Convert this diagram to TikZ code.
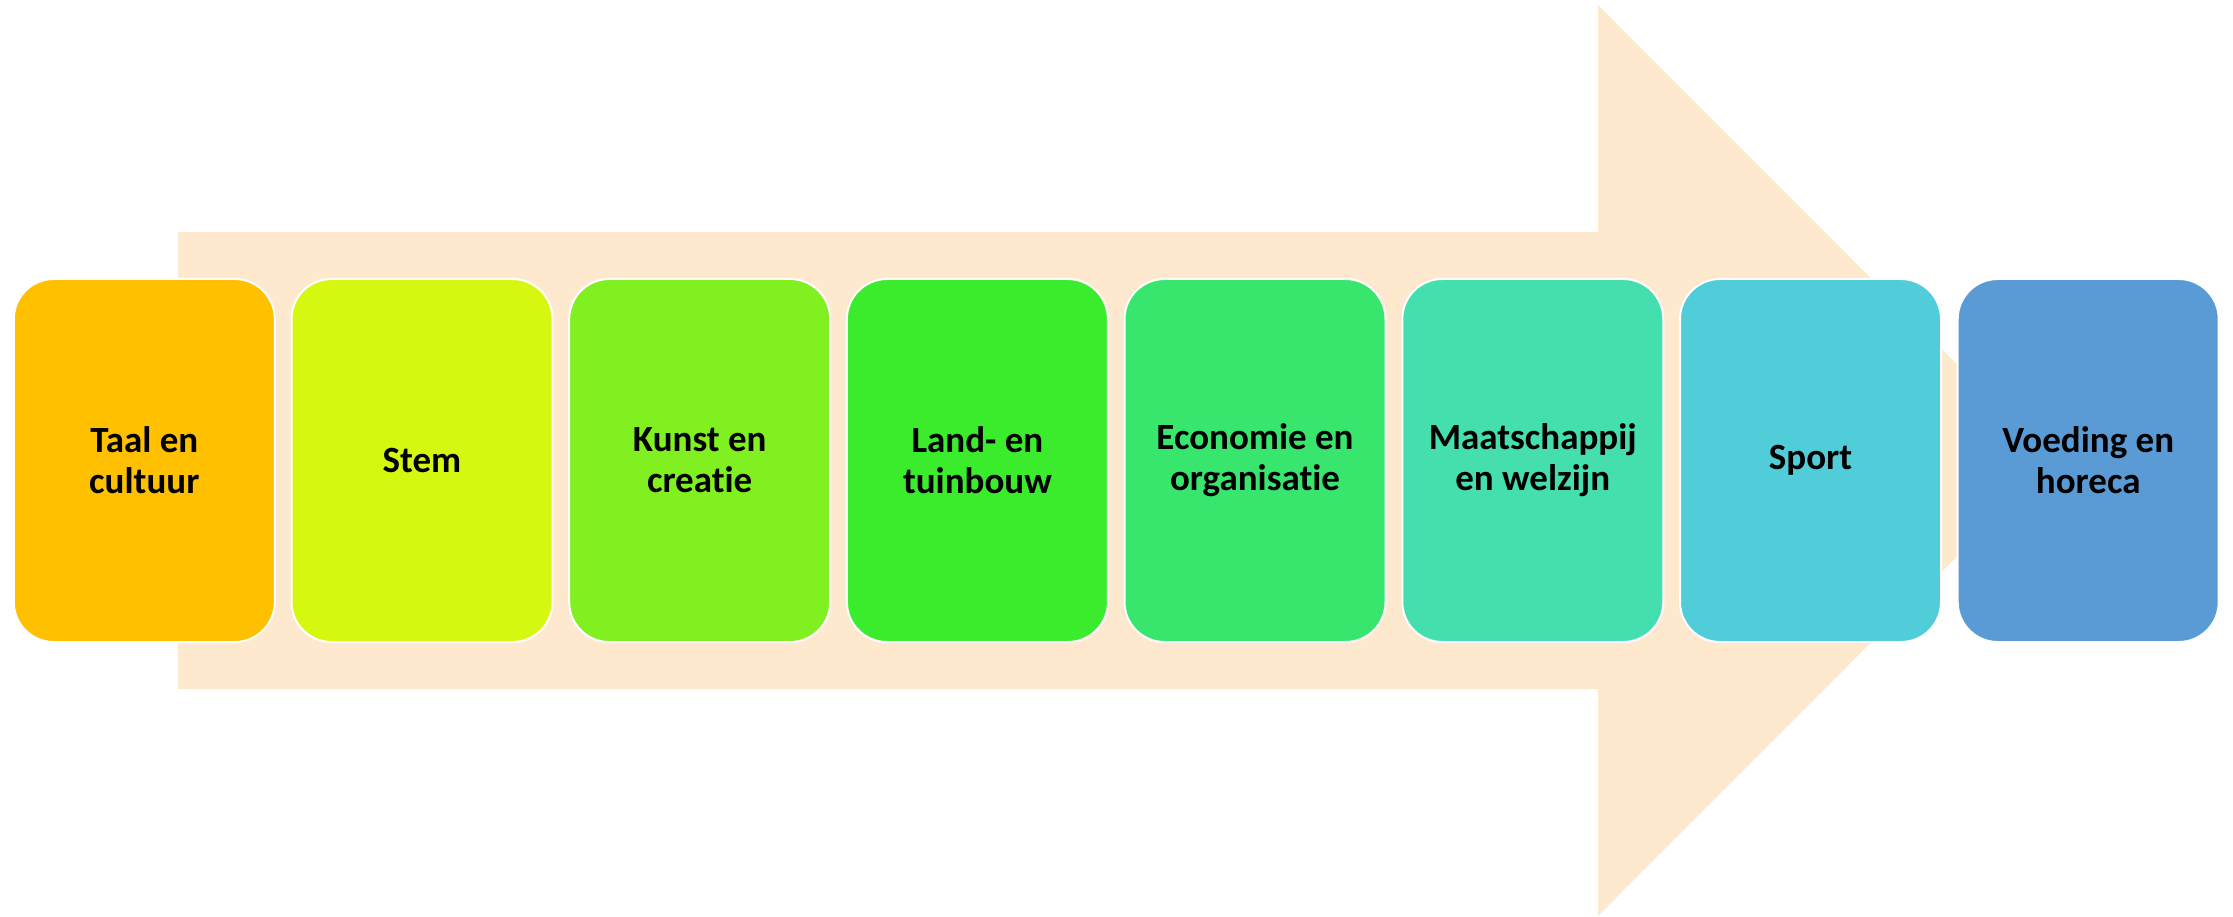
\documentclass[tikz,border=0pt]{standalone}
\usepackage{fontspec}
\setmainfont{Carlito}[Ligatures=NoCommon]
\definecolor{peach}{HTML}{FEE8CE}
\definecolor{c1}{HTML}{FFC000}
\definecolor{c2}{HTML}{D6F70F}
\definecolor{c3}{HTML}{80F020}
\definecolor{c4}{HTML}{3BEC2C}
\definecolor{c5}{HTML}{38E66E}
\definecolor{c6}{HTML}{45DFAF}
\definecolor{c7}{HTML}{50CDD8}
\definecolor{c8}{HTML}{5B9BD5}
\begin{document}
\begin{tikzpicture}[x=1pt,y=-1pt,
  card/.style={rectangle, rounded corners=40pt, minimum width=261pt, minimum height=363pt,
    draw=white, line width=2pt, align=center, inner sep=0pt,
    font=\fontsize{37}{41}\selectfont\bfseries, text=black}]
\useasboundingbox (0,0) rectangle (2233,917);
\fill[peach] (178,232) -- (1598,232) -- (1598,5) -- (2053,460.5) -- (1598,916) -- (1598,689) -- (178,689) -- cycle;
\node[card, fill=c1] (b1) at (144.3,460.5) {Taal en\\cultuur};
\node[card, fill=c2] (b2) at (422,460.5) {Stem};
\node[card, fill=c3] (b3) at (699.7,460.5) {Kunst en\\creatie};
\node[card, fill=c4] (b4) at (977.4,460.5) {Land- en\\tuinbouw};
\node[card, fill=c5] (b5) at (1255,460.5) {Economie en\\organisatie};
\node[card, fill=c6] (b6) at (1532.8,460.5) {Maatschappij\\en welzijn};
\node[card, fill=c7] (b7) at (1810.5,460.5) {Sport};
\node[card, fill=c8] (b8) at (2088.2,460.5) {Voeding en\\horeca};
\end{tikzpicture}
\end{document}
